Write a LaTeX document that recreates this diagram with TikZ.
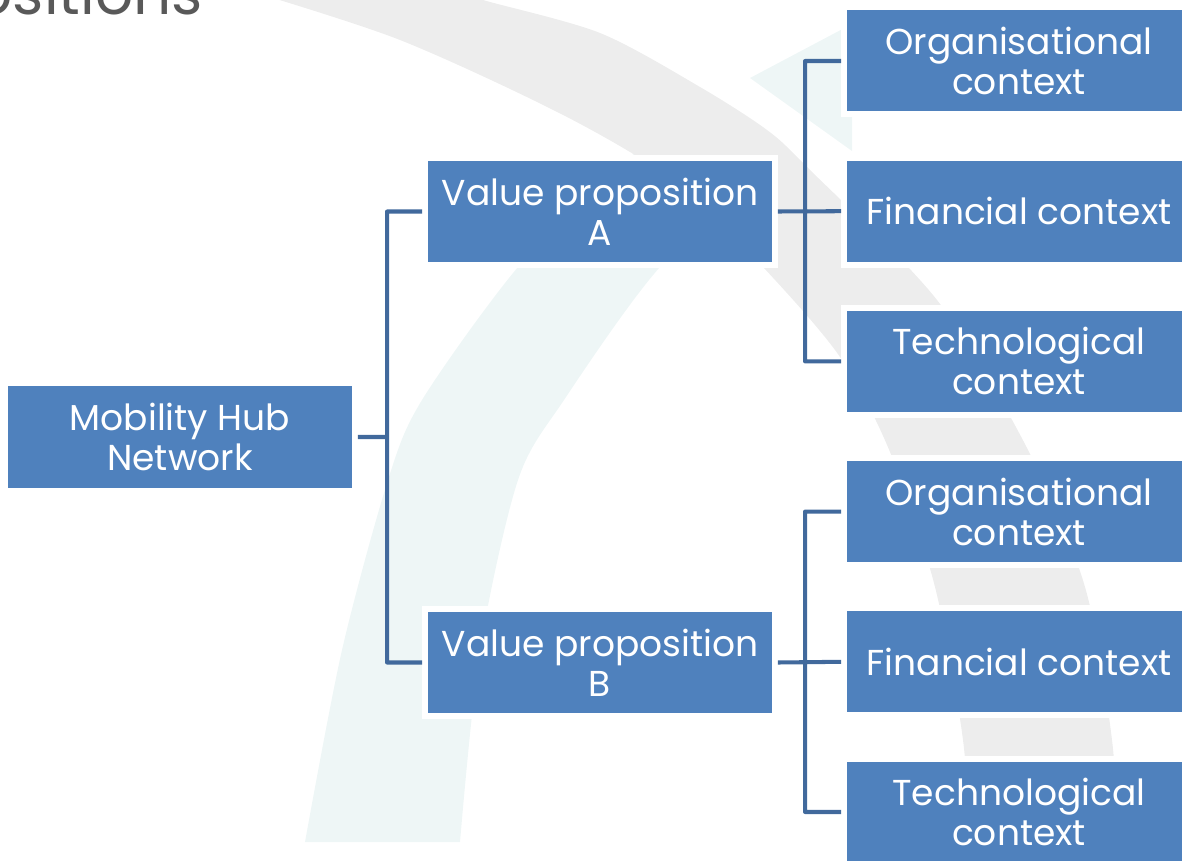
\documentclass[tikz,border=0pt]{standalone}
\usepackage{fontspec}
\setmainfont{Poppins}
\usetikzlibrary{calc}
\usepackage{xcolor}

\definecolor{BoxBlue}{HTML}{4F81BD}
\definecolor{LinkBlue}{HTML}{41699C}
\definecolor{SwooshGray}{HTML}{EDEDED}
\definecolor{SwooshTeal}{HTML}{EEF6F6}
\definecolor{TitleGray}{HTML}{595959}

\begin{document}
\begin{tikzpicture}[
        %Environment config
        x=0.02cm, y=-0.02cm,
        font=\fontsize{20.5}{22.8}\selectfont,
        %Environment styles
        BoxCfg/.style={
            rectangle,
            fill=BoxBlue,
            draw=white,
            line width=3.4pt,
            minimum width=7cm,
            minimum height=2.14cm,
            inner sep=0pt,
            text=white,
            align=center
        },
        LinkCfg/.style={
            draw=LinkBlue,
            line width=2.3pt,
            line join=round
        }
    ]
    \useasboundingbox (0,0) rectangle (1182,861);
    \clip (0,0) rectangle (1182,861);

    %background swooshes
    \fill[SwooshTeal]
        plot[smooth] coordinates {(305,842) (342,650) (388,480) (422,400) (518,267) (620,165) (700,110)}
        -- plot[smooth] coordinates {(770,170) (660,267) (564,400) (518,480) (480,650) (460,842)}
        -- cycle;
    \fill[SwooshTeal] (750,78) -- (852,24) -- (852,151) -- cycle;
    \fill[SwooshGray]
        plot[smooth] coordinates {(240,-12) (400,40) (567,117) (680,185) (763,267) (840,357) (890,452) (935,587) (963,740) (972,870)}
        -- plot[smooth] coordinates {(1120,870) (1112,740) (1085,587) (1027,448) (937,300) (807,167) (767,130) (700,87) (600,33) (483,0) (450,-12)}
        -- cycle;

    \node[anchor=base east, text=TitleGray, font=\fontsize{34}{34}\selectfont](Title) at (209,15) {ositions};

    \path
        (180,437) node[BoxCfg](Hub){Mobility Hub\\Network}
        (600,211.5) node[BoxCfg](PropA){Value proposition\\A}
            ++ (0,451) node[BoxCfg](PropB){Value proposition\\B}
        (1019,61) node[BoxCfg](OrgA){Organisational\\context}
            ++ (0,150.2) node[BoxCfg](FinA){Financial context}
            ++ (0,150.2) node[BoxCfg](TechA){Technological\\context}
            ++ (0,150.2) node[BoxCfg](OrgB){Organisational\\context}
            ++ (0,150.2) node[BoxCfg](FinB){Financial context}
            ++ (0,150.2) node[BoxCfg](TechB){Technological\\context};

    \draw[LinkCfg]
        (PropA.west) -- ++(-35,0) coordinate (ForkHub) |- (PropB.west)
        (Hub.east) -- (Hub.east -| ForkHub)

        (OrgA.west) -- ++(-36,0) coordinate (ForkA) |- (TechA.west)
        (PropA.east) -- (FinA.west)

        (OrgB.west) -- ++(-36,0) coordinate (ForkB) |- (TechB.west)
        (PropB.east) -- (FinB.west);

\end{tikzpicture}
\end{document}
